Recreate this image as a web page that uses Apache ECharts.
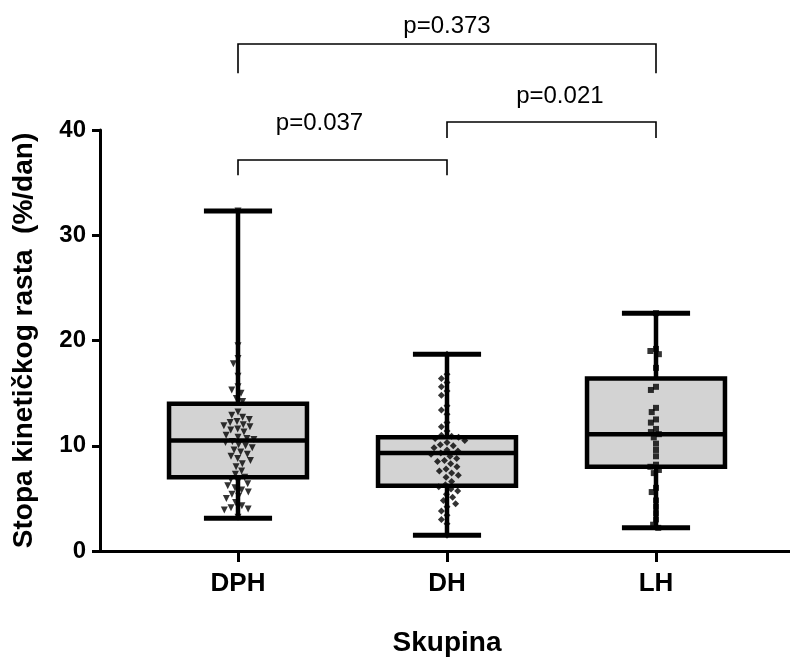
<!DOCTYPE html>
<html>
<head>
<meta charset="utf-8">
<script src="https://cdn.jsdelivr.net/npm/echarts@6/dist/echarts.min.js"></script>
<style>html,body{margin:0;padding:0;background:#fff;}#c{width:790px;height:658px;}</style>
</head>
<body>
<div id="c"></div>
<script>
const categories = ['DPH', 'DH', 'LH'];
const boxMin = [3.1, 1.5, 2.2];
const boxQ1 = [7.0, 6.2, 8.0];
const boxMedian = [10.5, 9.3, 11.1];
const boxQ3 = [14.0, 10.8, 16.4];
const boxMax = [32.3, 18.7, 22.6];

const dphValues = [32.3, 19.5, 18.3, 17.8, 16.6, 15.6, 15.3, 15.0, 14.5, 14.2,
  13.2, 12.9, 12.7, 12.5, 12.3, 12.2, 12.0, 11.9, 11.8, 11.6, 11.5, 11.3,
  11.0, 10.8, 10.7, 10.6, 10.4, 10.3, 10.1, 10.0, 9.8, 9.6, 9.4, 9.2, 9.0, 8.8, 8.6, 8.3, 8.0,
  7.6, 7.3, 7.0, 6.8, 6.6, 6.4, 6.2, 6.0, 5.8, 5.6, 5.4, 5.2, 5.0, 4.6, 4.3, 4.1, 4.0, 3.9, 3.2];
const dhValues = [18.7, 16.8, 16.4, 16.0, 15.6, 15.2, 14.8, 13.8, 13.4, 13.0, 12.2, 11.8, 11.4,
  11.0, 10.9, 10.8, 10.7, 10.5, 10.3, 10.1, 10.0, 9.8, 9.6, 9.5, 9.3, 9.2, 9.0, 8.8, 8.6, 8.5,
  8.3, 8.0, 7.8, 7.6, 7.4, 7.2, 7.0, 6.6, 6.3, 6.1, 5.9, 5.7, 5.4, 5.1, 4.8, 4.5, 4.2, 3.8,
  3.4, 3.0, 2.6, 1.5];
const lhValues = [22.6, 19.2, 19.0, 18.7, 17.4, 15.6, 15.3, 13.6, 13.2, 12.5, 12.2, 11.6, 11.3,
  11.1, 10.8, 10.2, 9.6, 9.0, 8.2, 8.0, 7.7, 7.4, 6.0, 5.6, 4.8, 4.2, 3.6, 3.0, 2.5, 2.2];

const pLabels = ['p=0.037', 'p=0.021', 'p=0.373'];
const bracketFrom = [0, 1, 0];
const bracketTo = [1, 2, 2];
const bracketTop = [37.15, 40.76, 48.17];
const bracketBottom = [35.7, 39.24, 45.4];
const labelValueY = [40.67, 43.2, 49.8];
const labelFrac = [0.39, 0.54, 0.5];

const FONT = 'Arial, "Liberation Sans", sans-serif';
const chart = echarts.init(document.getElementById('c'), null, {renderer: 'canvas'});

const boxData = categories.map((c, i) => [i, boxMin[i], boxQ1[i], boxMedian[i], boxQ3[i], boxMax[i]]);
const bracketData = pLabels.map((p, i) => [bracketFrom[i], bracketTo[i], bracketTop[i], bracketBottom[i], labelValueY[i], labelFrac[i]]);

function renderBox(params, api) {
  const i = api.value(0);
  const band = api.size([1, 0])[0];
  const halfBox = band * 0.33;
  const halfCap = band * 0.163;
  const pMin = api.coord([i, api.value(1)]);
  const pQ1 = api.coord([i, api.value(2)]);
  const pMed = api.coord([i, api.value(3)]);
  const pQ3 = api.coord([i, api.value(4)]);
  const pMax = api.coord([i, api.value(5)]);
  const x = pMed[0];
  const st = {stroke: '#000', lineWidth: 4.5, fill: null};
  return {
    type: 'group',
    children: [
      {type: 'line', shape: {x1: x, y1: pMax[1], x2: x, y2: pMin[1]}, style: st},
      {type: 'line', shape: {x1: x - halfCap, y1: pMax[1], x2: x + halfCap, y2: pMax[1]}, style: {stroke: '#000', lineWidth: 5}},
      {type: 'line', shape: {x1: x - halfCap, y1: pMin[1], x2: x + halfCap, y2: pMin[1]}, style: {stroke: '#000', lineWidth: 5}},
      {type: 'rect', shape: {x: x - halfBox, y: pQ3[1], width: 2 * halfBox, height: pQ1[1] - pQ3[1]},
        style: {fill: '#d3d3d3', stroke: '#000', lineWidth: 4.5}},
      {type: 'line', shape: {x1: x - halfBox - 2, y1: pMed[1], x2: x + halfBox + 2, y2: pMed[1]}, style: st}
    ]
  };
}

function renderBracket(params, api) {
  const a = api.coord([api.value(0), api.value(2)]);
  const b = api.coord([api.value(1), api.value(2)]);
  const yb = api.coord([api.value(0), api.value(3)])[1];
  const yl = api.coord([api.value(0), api.value(4)])[1];
  const xl = a[0] + (b[0] - a[0]) * api.value(5);
  return {
    type: 'group',
    children: [
      {type: 'polyline', shape: {points: [[a[0], yb], [a[0], a[1]], [b[0], b[1]], [b[0], yb]]},
        style: {stroke: '#000', lineWidth: 1.6, fill: null}},
      {type: 'text', x: xl, y: yl, style: {text: pLabels[params.dataIndex], fill: '#000',
        font: '24px ' + FONT, align: 'center', verticalAlign: 'middle'}}
    ]
  };
}

const option = {
  backgroundColor: '#fff',
  animation: false,
  grid: [
    {left: 133.5, width: 627, top: 130, bottom: 107, outerBoundsMode: 'none'},
    {left: 100, right: 0, top: 130, bottom: 107, outerBoundsMode: 'none'}
  ],
  xAxis: [
    {type: 'category', gridIndex: 0, data: categories, boundaryGap: true,
      jitter: 44, jitterOverlap: false, jitterMargin: 0,
      axisLine: {show: false},
      axisTick: {show: true, alignWithLabel: true, length: 11, lineStyle: {color: '#000', width: 3}},
      axisLabel: {color: '#000', fontWeight: 'bold', fontSize: 26, fontFamily: FONT, margin: 20},
      splitLine: {show: false},
      name: 'Skupina', nameLocation: 'middle', nameGap: 78,
      nameTextStyle: {color: '#000', fontWeight: 'bold', fontSize: 28, fontFamily: FONT}},
    {type: 'value', gridIndex: 1, min: 0, max: 1,
      axisLine: {show: true, lineStyle: {color: '#000', width: 3}},
      axisTick: {show: false}, axisLabel: {show: false}, splitLine: {show: false}}
  ],
  yAxis: [
    {type: 'value', gridIndex: 0, min: 0, max: 40, interval: 10, show: false},
    {type: 'value', gridIndex: 1, min: 0, max: 40, interval: 10,
      axisLine: {show: true, lineStyle: {color: '#000', width: 3}},
      axisTick: {show: true, length: 8, lineStyle: {color: '#000', width: 3}},
      axisLabel: {color: '#000', fontWeight: 'bold', fontSize: 24, fontFamily: FONT, margin: 14},
      splitLine: {show: false},
      name: 'Stopa kinetičkog rasta  (%/dan)', nameLocation: 'middle', nameGap: 62, nameRotate: 90,
      nameTextStyle: {color: '#000', fontWeight: 'bold', fontSize: 28, fontFamily: FONT}}
  ],
  series: [
    {type: 'custom', xAxisIndex: 0, yAxisIndex: 0, renderItem: renderBox, data: boxData,
      encode: {x: 0, y: [1, 2, 3, 4, 5]}, z: 2, silent: true},
    {type: 'scatter', xAxisIndex: 0, yAxisIndex: 0, data: dphValues.map(v => [0, v]),
      symbol: 'triangle', symbolRotate: 180, symbolSize: 7, itemStyle: {color: '#000'}, z: 3},
    {type: 'scatter', xAxisIndex: 0, yAxisIndex: 0, data: dhValues.map(v => [1, v]),
      symbol: 'diamond', symbolSize: 7, itemStyle: {color: '#000'}, z: 3},
    {type: 'scatter', xAxisIndex: 0, yAxisIndex: 0, data: lhValues.map(v => [2, v]),
      symbol: 'rect', symbolSize: 6, itemStyle: {color: '#000'}, z: 3},
    {type: 'custom', xAxisIndex: 0, yAxisIndex: 0, renderItem: renderBracket, data: bracketData,
      encode: {x: [0, 1], y: [2, 3, 4]}, clip: false, z: 4, silent: true}
  ]
};
chart.setOption(option);
</script>
</body>
</html>
